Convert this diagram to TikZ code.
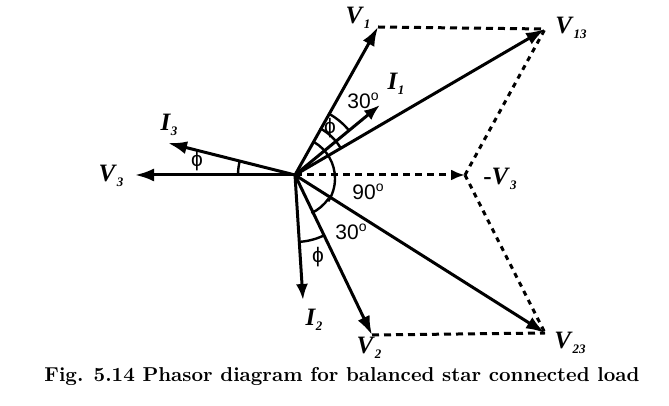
\documentclass[tikz,border=0pt]{standalone}
\usepackage{fontspec}
\setmainfont{Liberation Serif}
\newfontfamily\lsans{Liberation Sans}
\usetikzlibrary{arrows.meta}
\newcommand{\vsub}[2]{\textbf{\textit{#1}}\raisebox{-5pt}{\fontsize{13}{13}\selectfont\textbf{\textit{#2}}}}
\newcommand{\degsup}[1]{#1\raisebox{8pt}{\fontsize{14}{14}\selectfont o}}
\begin{document}
\begin{tikzpicture}[x=1pt,y=1pt,
  vec/.style={line width=3pt,-{Latex[length=19pt,width=13pt]}},
  dsh/.style={line width=3pt,dash pattern=on 7pt off 5pt},
  dot/.style={line width=3pt,dash pattern=on 5pt off 5pt},
  lbl/.style={font=\fontsize{25}{25}\selectfont,inner sep=0pt},
  ang/.style={font=\lsans\fontsize{21}{21}\selectfont,inner sep=0pt},
  arcl/.style={line width=2.4pt}]
\useasboundingbox (0,0) rectangle (669,406);
\coordinate (O) at (295,231);
\coordinate (v1) at (378,379);
\coordinate (v13) at (545,377);
\coordinate (i1) at (380,301);
\coordinate (v3) at (135,231);
\coordinate (i3) at (168,263);
\coordinate (mv3) at (465,231);
\coordinate (v2) at (372,71);
\coordinate (i2) at (303,106);
\coordinate (v23) at (545,73);
% dashed construction lines
\draw[dsh] (v1) -- (v13);
\draw[dsh] (v2) -- (v23);
\draw[dsh,-{Latex[length=14pt,width=11pt]}] (O) -- (mv3);
\draw[dot] (mv3) -- (v13);
\draw[dot] (mv3) -- (v23);
% phasors
\draw[vec] (O) -- (v1);
\draw[vec] (O) -- (v13);
\draw[vec,-{Latex[length=16pt,width=12pt]}] (O) -- (i1);
\draw[vec] (O) -- (v3);
\draw[vec] (O) -- (i3);
\draw[vec] (O) -- (v2);
\draw[vec,-{Latex[length=16pt,width=12pt]}] (O) -- (i2);
\draw[vec] (O) -- (v23);
% angle arcs
\draw[arcl] (O) ++(60:70) arc[start angle=60,end angle=39,radius=70];
\draw[arcl] (O) ++(62:53) arc[start angle=62,end angle=30,radius=53];
\draw[arcl] (O) ++(60:38) arc[start angle=60,end angle=-33,radius=42];
\draw[arcl] (O) ++(-35:41) arc[start angle=-35,end angle=-64,radius=45];
\draw[arcl] (O) ++(-64:67) arc[start angle=-64,end angle=-86,radius=67];
\draw[arcl] (O) ++(180:57) arc[start angle=180,end angle=166,radius=57];
% labels
\node[lbl] (lv1) at (358,388) {\vsub{V}{1}};
\node[lbl] (lv13) at (571,378) {\vsub{V}{13}};
\node[lbl] (li1) at (396,322) {\vsub{I}{1}};
\node[lbl] (li3) at (169,281) {\vsub{I}{3}};
\node[lbl] (lv3) at (111,230) {\vsub{V}{3}};
\node[lbl] (lmv3) at (500,227) {\textbf{-}\vsub{V}{3}};
\node[lbl] (lv2) at (369,58) {\vsub{V}{2}};
\node[lbl] (lv23) at (570,63) {\vsub{V}{23}};
\node[lbl] (li2) at (314,86) {\vsub{I}{2}};
\node[ang] (a30u) at (363,305) {\degsup{30}};
\node[ang] (phu) at (330,278) {ϕ};
\node[ang] (phl) at (197,245) {ϕ};
\node[ang] (a90) at (368,214) {\degsup{90}};
\node[ang] (a30l) at (351,174) {\degsup{30}};
\node[ang] (phd) at (318,149) {ϕ};
\node[inner sep=0pt] (cap) at (342,30) {\resizebox{595pt}{!}{\bfseries\fontspec{Latin Modern Roman}Fig. 5.14 Phasor diagram for balanced star connected load}};
\end{tikzpicture}
\end{document}
